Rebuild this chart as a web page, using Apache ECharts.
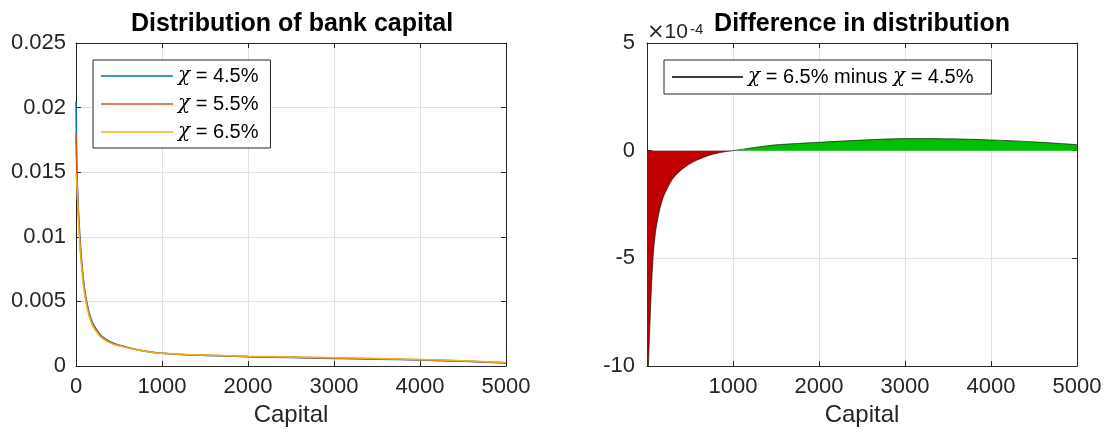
<!DOCTYPE html>
<html>
<head>
<meta charset="utf-8">
<script src="https://cdn.jsdelivr.net/npm/echarts@6/dist/echarts.min.js"></script>
<style>
  html, body { margin: 0; padding: 0; background: #fff; }
  #chart { width: 1106px; height: 434px; }
</style>
</head>
<body>
<div id="chart"></div>
<script>
// Capital grid shared by every curve
const capital = [0, 10, 20, 30, 50, 70, 90, 110, 150, 190, 230, 300, 420, 540, 700, 850,
                 1000, 1250, 1500, 2000, 2500, 3000, 3500, 4000, 4500, 5000];

// Density of bank capital for three capital requirements
const chi45 = [0.0205, 0.0152, 0.0134, 0.0118, 0.0095, 0.0078, 0.0065, 0.0055, 0.0042, 0.0034,
               0.0029, 0.0023, 0.0018, 0.00155, 0.00128, 0.0011, 0.00098, 0.00088, 0.00082,
               0.00072, 0.00065, 0.00059, 0.00053, 0.00046, 0.00036, 0.00024];
const chi55 = [0.0180, 0.0146, 0.0129, 0.0114, 0.0092, 0.00755, 0.0063, 0.0053, 0.00407, 0.00329,
               0.00281, 0.00224, 0.00176, 0.00152, 0.00127, 0.001095, 0.00098, 0.000888, 0.000834,
               0.00074, 0.000675, 0.000618, 0.000558, 0.000485, 0.00038, 0.000254];
const chi65 = [0.0149, 0.0141, 0.01244, 0.01095, 0.0088, 0.0073, 0.00609, 0.00515, 0.00393, 0.003185,
               0.00272, 0.00217, 0.001717, 0.001498, 0.001255, 0.001091, 0.00098, 0.000895, 0.000847,
               0.000759, 0.000699, 0.000646, 0.000585, 0.00051, 0.000401, 0.000268];

// chi = 6.5% minus chi = 4.5%, in units of 1e-4
const diffE4 = [-56, -11, -9.6, -8.5, -6.5, -5.0, -4.1, -3.5, -2.7, -2.15, -1.8, -1.3, -0.83, -0.52,
                -0.25, -0.09, 0, 0.15, 0.27, 0.39, 0.49, 0.56, 0.55, 0.50, 0.41, 0.28];

const seriesNames = ['χ = 4.5%', 'χ = 5.5%', 'χ = 6.5%'];
const diffName = 'χ = 6.5% minus χ = 4.5%';

const xTicks = { min: 0, max: 5000, interval: 1000 };
const leftY = { min: 0, max: 0.025, interval: 0.005 };
const rightY = { min: -10, max: 5, interval: 5 };

const pairs = ys => capital.map((c, i) => [c, ys[i]]);
const plain = v => String(v);

const FONT = 'Liberation Sans';
const INK = '#262626';
const GRID = '#e1e1e1';
const TICK_FS = 22;

function baseAxis(extra) {
  return Object.assign({
    type: 'value',
    axisLine: { show: true, onZero: false, lineStyle: { color: INK, width: 1 } },
    axisTick: { show: true, inside: true, length: 5, lineStyle: { color: INK } },
    axisLabel: { color: INK, fontFamily: FONT, fontSize: TICK_FS, formatter: plain },
    splitLine: { show: false }
  }, extra);
}

const legendText = {
  fontFamily: FONT, fontSize: 20, color: '#000', lineHeight: 20,
  rich: { c: { fontFamily: 'DejaVu Serif', fontStyle: 'italic', fontSize: 20, color: '#000', lineHeight: 20 } }
};

const chart = echarts.init(document.getElementById('chart'), null, { renderer: 'canvas' });

chart.setOption({
  animation: false,
  backgroundColor: '#fff',
  title: [
    { text: 'Distribution of bank capital', left: 287, top: 7, textAlign: 'center',
      textStyle: { fontFamily: FONT, fontSize: 25, fontWeight: 'bold', color: '#000' } },
    { text: 'Difference in distribution', left: 857, top: 7, textAlign: 'center',
      textStyle: { fontFamily: FONT, fontSize: 25, fontWeight: 'bold', color: '#000' } }
  ],
  graphic: [
    // axis exponent label: ×10^-4
    { type: 'text', left: 647, top: 22,
      style: { text: '{x|×}10', fontFamily: FONT, fontSize: 21, fill: INK,
        rich: { x: { fontFamily: 'DejaVu Sans', fontSize: 21, fill: INK } } } },
    { type: 'text', left: 690, top: 22,
      style: { text: '-4', fontFamily: FONT, fontSize: 15, fill: INK } }
  ],
  grid: [
    { left: 76, top: 43, width: 430, height: 323, containLabel: false },
    { left: 647, top: 43, width: 430, height: 323, containLabel: false }
  ],
  legend: [
    {
      data: seriesNames, orient: 'vertical', left: 93, top: 60, icon: 'rect',
      padding: [6, 12, 6, 8], itemGap: 8, itemWidth: 72, itemHeight: 1.5,
      backgroundColor: '#fff', borderColor: INK, borderWidth: 1, borderRadius: 0,
      formatter: n => n.replace('χ', '{c|χ}'),
      textStyle: legendText
    },
    {
      data: [diffName], orient: 'horizontal', left: 664, top: 60, icon: 'rect',
      padding: [7, 18, 7, 8], itemWidth: 71, itemHeight: 1.3,
      backgroundColor: '#fff', borderColor: INK, borderWidth: 1, borderRadius: 0,
      formatter: n => n.replace(/χ/g, '{c|χ}'),
      textStyle: legendText
    }
  ],
  xAxis: [
    baseAxis(Object.assign({ gridIndex: 0, position: 'bottom', name: 'Capital', nameLocation: 'middle', nameGap: 36,
      nameTextStyle: { fontFamily: FONT, fontSize: 24, color: INK },
      axisLabel: { color: INK, fontFamily: FONT, fontSize: TICK_FS, margin: 10, formatter: plain },
      splitLine: { show: true, lineStyle: { color: GRID, width: 1 } } }, xTicks)),
    baseAxis(Object.assign({ gridIndex: 0, position: 'top', axisLabel: { show: false } }, xTicks)),
    baseAxis(Object.assign({ gridIndex: 1, position: 'bottom', name: 'Capital', nameLocation: 'middle', nameGap: 36,
      nameTextStyle: { fontFamily: FONT, fontSize: 24, color: INK },
      axisLabel: { color: INK, fontFamily: FONT, fontSize: TICK_FS, margin: 10, showMinLabel: false, formatter: plain },
      splitLine: { show: true, lineStyle: { color: GRID, width: 1 } } }, xTicks)),
    baseAxis(Object.assign({ gridIndex: 1, position: 'top', axisLabel: { show: false } }, xTicks))
  ],
  yAxis: [
    baseAxis(Object.assign({ gridIndex: 0, position: 'left',
      axisLabel: { color: INK, fontFamily: FONT, fontSize: TICK_FS, margin: 10, formatter: plain },
      splitLine: { show: true, lineStyle: { color: GRID, width: 1 } } }, leftY)),
    baseAxis(Object.assign({ gridIndex: 0, position: 'right', axisLabel: { show: false } }, leftY)),
    baseAxis(Object.assign({ gridIndex: 1, position: 'left',
      axisLabel: { color: INK, fontFamily: FONT, fontSize: TICK_FS, margin: 12, formatter: plain },
      splitLine: { show: true, lineStyle: { color: GRID, width: 1 } } }, rightY)),
    baseAxis(Object.assign({ gridIndex: 1, position: 'right', axisLabel: { show: false } }, rightY))
  ],
  series: [
    { name: seriesNames[0], type: 'line', xAxisIndex: 0, yAxisIndex: 0, data: pairs(chi45),
      symbol: 'none', smooth: 0.3, color: '#0072BD', lineStyle: { width: 1.5 } },
    { name: seriesNames[1], type: 'line', xAxisIndex: 0, yAxisIndex: 0, data: pairs(chi55),
      symbol: 'none', smooth: 0.3, color: '#D95319', lineStyle: { width: 1.5 } },
    { name: seriesNames[2], type: 'line', xAxisIndex: 0, yAxisIndex: 0, data: pairs(chi65),
      symbol: 'none', smooth: 0.3, color: '#EDB120', lineStyle: { width: 1.5 } },
    // shaded losses (below zero) and gains (above zero)
    { name: 'below', type: 'line', xAxisIndex: 2, yAxisIndex: 2, data: pairs(diffE4.map(v => Math.min(v, 0))),
      symbol: 'none', smooth: 0.3, lineStyle: { width: 0 }, color: '#C00000',
      areaStyle: { color: '#C00000', opacity: 1 }, clip: true },
    { name: 'above', type: 'line', xAxisIndex: 2, yAxisIndex: 2, data: pairs(diffE4.map(v => Math.max(v, 0))),
      symbol: 'none', smooth: 0.3, lineStyle: { width: 0 }, color: '#00BF00',
      areaStyle: { color: '#00BF00', opacity: 1 }, clip: true },
    { name: diffName, type: 'line', xAxisIndex: 2, yAxisIndex: 2, data: pairs(diffE4),
      symbol: 'none', smooth: 0.3, color: '#000', lineStyle: { width: 0.6 }, clip: true, z: 3 }
  ]
});
</script>
</body>
</html>
